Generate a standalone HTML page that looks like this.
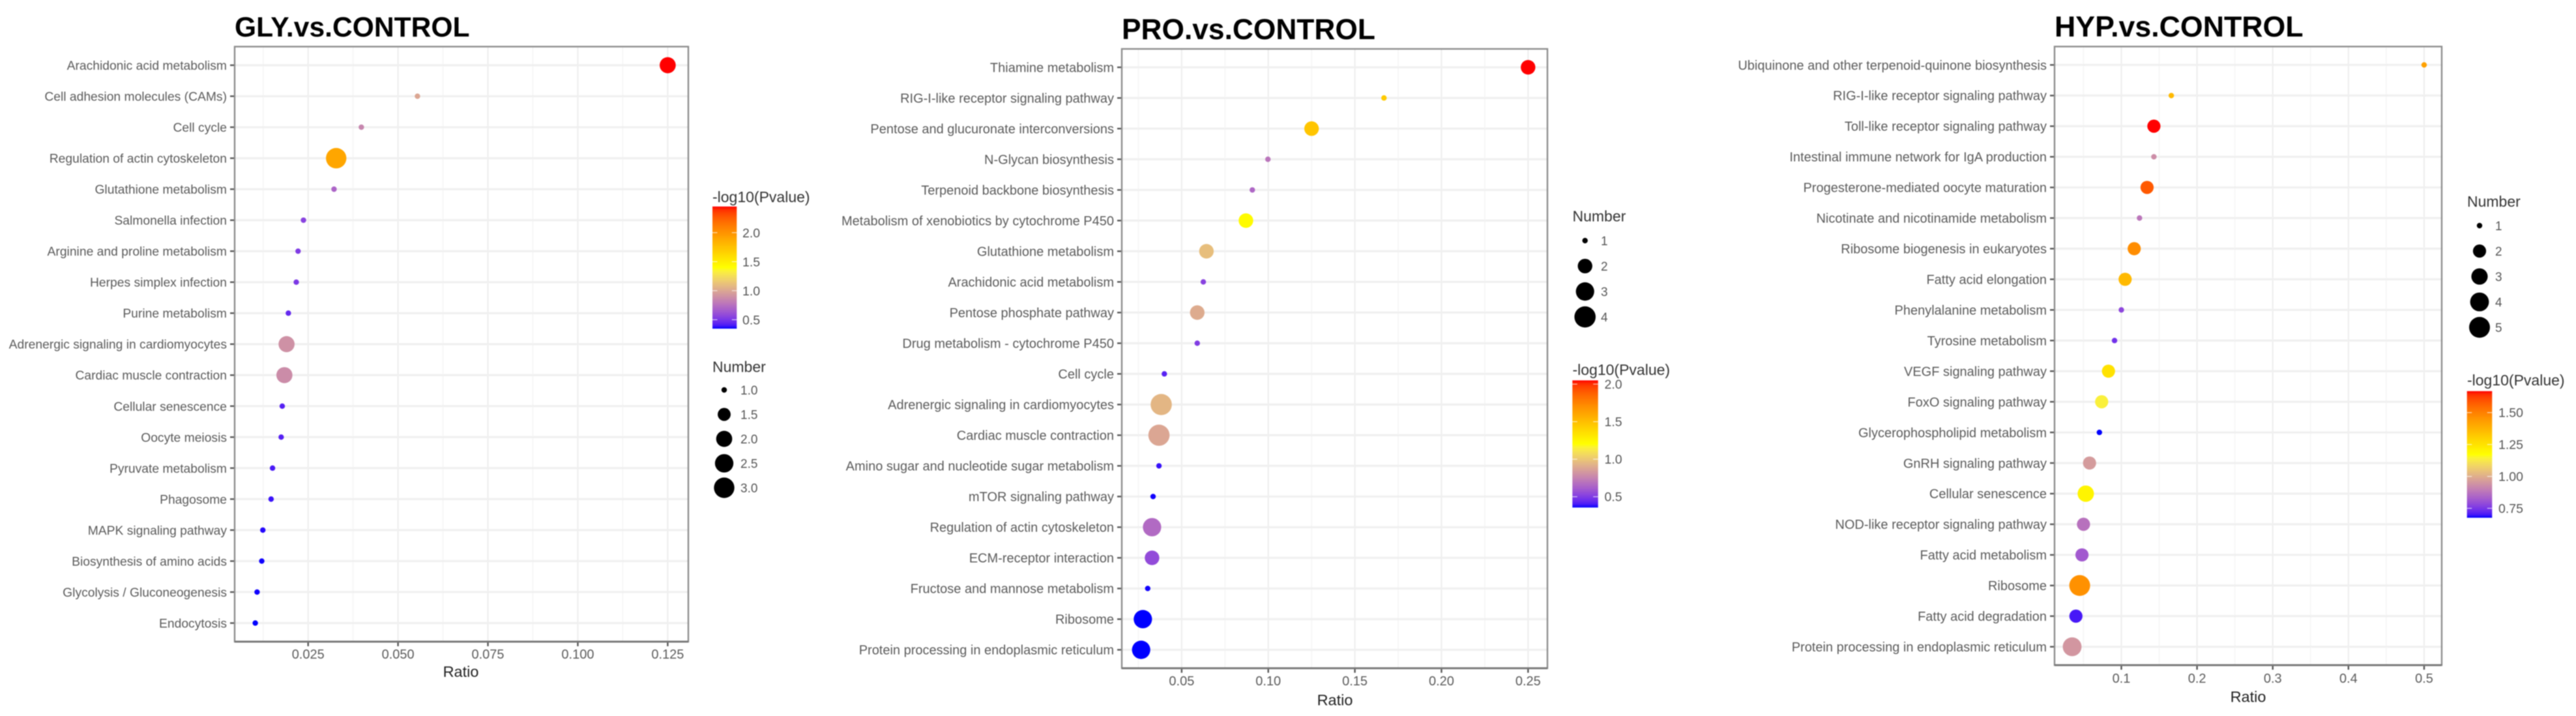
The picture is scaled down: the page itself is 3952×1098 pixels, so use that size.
<!DOCTYPE html>
<html lang="en">
<head>
<meta charset="utf-8">
<title>KEGG enrichment bubble charts</title>
<style>
html,body{margin:0;padding:0;background:#fff;}
svg{display:block;filter:blur(0.9px);}
text{font-family:"Liberation Sans",Arial,sans-serif;}
.title{font-weight:bold;fill:#000;}
.axis-title{font-size:23.5px;fill:#222;text-anchor:middle;}
.legend-title{font-size:23px;fill:#333;}
</style>
</head>
<body>
<svg id="figure" xmlns="http://www.w3.org/2000/svg" width="3952" height="1098" viewBox="0 0 3952 1098">
  <rect x="0" y="0" width="3952" height="1098" fill="#ffffff"/>

  <g id="panel-gly"></g>
  <text class="title" x="360" y="56" font-size="42.6">GLY.vs.CONTROL</text>
  <text class="axis-title" x="707" y="1038">Ratio</text>
  <text class="legend-title" x="1093" y="310">-log10(Pvalue)</text>
  <text class="legend-title" x="1093" y="570.5">Number</text>

  <g id="panel-pro"></g>
  <text class="title" x="1721" y="60" font-size="44.3">PRO.vs.CONTROL</text>
  <text class="axis-title" x="2048" y="1081.5">Ratio</text>
  <text class="legend-title" x="2412.5" y="575">-log10(Pvalue)</text>
  <text class="legend-title" x="2412.5" y="339.5">Number</text>

  <g id="panel-hyp"></g>
  <text class="title" x="3152" y="56" font-size="44.7">HYP.vs.CONTROL</text>
  <text class="axis-title" x="3449" y="1076.5">Ratio</text>
  <text class="legend-title" x="3785" y="591">-log10(Pvalue)</text>
  <text class="legend-title" x="3785" y="317">Number</text>
</svg>

<script>
/* ---------- GLY data ---------- */
const glyCategories = ["Arachidonic acid metabolism","Cell adhesion molecules (CAMs)","Cell cycle","Regulation of actin cytoskeleton","Glutathione metabolism","Salmonella infection","Arginine and proline metabolism","Herpes simplex infection","Purine metabolism","Adrenergic signaling in cardiomyocytes","Cardiac muscle contraction","Cellular senescence","Oocyte meiosis","Pyruvate metabolism","Phagosome","MAPK signaling pathway","Biosynthesis of amino acids","Glycolysis / Gluconeogenesis","Endocytosis"];
const glyRatio = [0.125,0.0554,0.0398,0.0328,0.0322,0.0237,0.0222,0.0217,0.0195,0.019,0.0184,0.0178,0.0175,0.0151,0.0147,0.0124,0.0121,0.0108,0.0103];
const glyNumber = [2,1,1,3,1,1,1,1,1,2,2,1,1,1,1,1,1,1,1];
const glyLogP = [2.45,1.0,0.85,1.9,0.7,0.55,0.52,0.51,0.45,0.9,0.88,0.42,0.42,0.4,0.38,0.36,0.35,0.35,0.346];
const glyXTicks = [0.025,0.05,0.075,0.1,0.125];
const glyXTickLabels = ["0.025","0.050","0.075","0.100","0.125"];
const glyColorTicks = [0.5,1.0,1.5,2.0];
const glyColorTickLabels = ["0.5","1.0","1.5","2.0"];
const glySizeLegend = [1,1.5,2,2.5,3];
const glySizeLabels = ["1.0","1.5","2.0","2.5","3.0"];

/* ---------- PRO data ---------- */
const proCategories = ["Thiamine metabolism","RIG-I-like receptor signaling pathway","Pentose and glucuronate interconversions","N-Glycan biosynthesis","Terpenoid backbone biosynthesis","Metabolism of xenobiotics by cytochrome P450","Glutathione metabolism","Arachidonic acid metabolism","Pentose phosphate pathway","Drug metabolism - cytochrome P450","Cell cycle","Adrenergic signaling in cardiomyocytes","Cardiac muscle contraction","Amino sugar and nucleotide sugar metabolism","mTOR signaling pathway","Regulation of actin cytoskeleton","ECM-receptor interaction","Fructose and mannose metabolism","Ribosome","Protein processing in endoplasmic reticulum"];
const proRatio = [0.25,0.1668,0.125,0.0998,0.0908,0.0871,0.0643,0.0625,0.059,0.059,0.04,0.0382,0.0369,0.0369,0.0335,0.0329,0.0329,0.0304,0.0276,0.0266];
const proNumber = [2,1,2,1,1,2,2,1,2,1,1,4,4,1,1,3,2,1,3,3];
const proLogP = [2.05,1.45,1.47,0.7,0.65,1.22,0.97,0.52,0.9,0.5,0.42,0.94,0.88,0.38,0.36,0.66,0.55,0.36,0.356,0.356];
const proXTicks = [0.05,0.1,0.15,0.2,0.25];
const proXTickLabels = ["0.05","0.10","0.15","0.20","0.25"];
const proColorTicks = [0.5,1.0,1.5,2.0];
const proColorTickLabels = ["0.5","1.0","1.5","2.0"];
const proSizeLegend = [1,2,3,4];
const proSizeLabels = ["1","2","3","4"];

/* ---------- HYP data ---------- */
const hypCategories = ["Ubiquinone and other terpenoid-quinone biosynthesis","RIG-I-like receptor signaling pathway","Toll-like receptor signaling pathway","Intestinal immune network for IgA production","Progesterone-mediated oocyte maturation","Nicotinate and nicotinamide metabolism","Ribosome biogenesis in eukaryotes","Fatty acid elongation","Phenylalanine metabolism","Tyrosine metabolism","VEGF signaling pathway","FoxO signaling pathway","Glycerophospholipid metabolism","GnRH signaling pathway","Cellular senescence","NOD-like receptor signaling pathway","Fatty acid metabolism","Ribosome","Fatty acid degradation","Protein processing in endoplasmic reticulum"];
const hypRatio = [0.5,0.166,0.143,0.143,0.134,0.124,0.117,0.105,0.1,0.091,0.083,0.074,0.071,0.058,0.053,0.05,0.048,0.045,0.04,0.035];
const hypNumber = [1,1,2,1,2,1,2,2,1,1,2,2,1,2,3,2,2,5,2,4];
const hypLogP = [1.42,1.36,1.668,0.93,1.58,0.88,1.47,1.36,0.78,0.74,1.25,1.14,0.676,0.96,1.2,0.87,0.82,1.46,0.7,0.95];
const hypXTicks = [0.1,0.2,0.3,0.4,0.5];
const hypXTickLabels = ["0.1","0.2","0.3","0.4","0.5"];
const hypColorTicks = [0.75,1.0,1.25,1.5];
const hypColorTickLabels = ["0.75","1.00","1.25","1.50"];
const hypSizeLegend = [1,2,3,4,5];
const hypSizeLabels = ["1","2","3","4","5"];

const SVGNS = "http://www.w3.org/2000/svg";

function mk(tag, attrs, parent){
  const el = document.createElementNS(SVGNS, tag);
  for (const k in attrs) el.setAttribute(k, attrs[k]);
  parent.appendChild(el);
  return el;
}

/* Lab interpolation, matching the blue-yellow-red gradient of the reference */
function toLab(hex){
  const c = [1,3,5].map(i => parseInt(hex.substr(i,2),16)/255)
    .map(v => v > 0.04045 ? Math.pow((v+0.055)/1.055,2.4) : v/12.92);
  const X = (0.4124*c[0]+0.3576*c[1]+0.1805*c[2])/0.95047;
  const Y = (0.2126*c[0]+0.7152*c[1]+0.0722*c[2]);
  const Z = (0.0193*c[0]+0.1192*c[1]+0.9505*c[2])/1.08883;
  const f = t => t > 0.008856 ? Math.cbrt(t) : 7.787*t+16/116;
  return [116*f(Y)-16, 500*(f(X)-f(Y)), 200*(f(Y)-f(Z))];
}
function fromLab(l){
  const fy=(l[0]+16)/116, fx=l[1]/500+fy, fz=fy-l[2]/200;
  const g = t => t*t*t > 0.008856 ? t*t*t : (t-16/116)/7.787;
  const X=g(fx)*0.95047, Y=g(fy), Z=g(fz)*1.08883;
  const rgb=[3.2406*X-1.5372*Y-0.4986*Z, -0.9689*X+1.8758*Y+0.0415*Z, 0.0557*X-0.2040*Y+1.0570*Z];
  return "rgb(" + rgb.map(v => {
    v = v <= 0.0031308 ? 12.92*v : 1.055*Math.pow(Math.max(v,0),1/2.4)-0.055;
    return Math.round(Math.min(1,Math.max(0,v))*255);
  }).join(",") + ")";
}
const labBlue = toLab("#0000ff"), labYellow = toLab("#ffff00"), labRed = toLab("#ff0000");
function gradientColor(t){
  t = Math.min(1,Math.max(0,t));
  const a = t < 0.5 ? labBlue : labYellow;
  const b = t < 0.5 ? labYellow : labRed;
  const u = t < 0.5 ? t*2 : (t-0.5)*2;
  return fromLab([0,1,2].map(i => a[i]+(b[i]-a[i])*u));
}

function drawChart(p){
  const root = document.getElementById(p.id);

  /* scales: continuous axis with 5% expansion, discrete axis with 0.6 band expansion */
  const xMin = Math.min(...p.ratio), xMax = Math.max(...p.ratio);
  const xPad = (xMax-xMin)*0.05;
  const x = v => p.left + (v-(xMin-xPad))/((xMax+xPad)-(xMin-xPad))*(p.right-p.left);
  const band = (p.bottom-p.top)/(p.categories.length-1+1.2);
  const y = i => p.top + band*(0.6+i);
  const cMin = Math.min(...p.logP), cMax = Math.max(...p.logP);
  const color = v => gradientColor((v-cMin)/(cMax-cMin));
  const nMin = Math.min(...p.sizeLegend), nMax = Math.max(...p.sizeLegend);
  const radius = n => 4.2 + (p.rMax-4.2)*Math.sqrt((n-nMin)/(nMax-nMin));

  /* minor vertical grid */
  const tickStep = p.xTicks[1]-p.xTicks[0];
  const minors = [p.xTicks[0]-tickStep/2];
  p.xTicks.forEach(t => minors.push(t+tickStep/2));
  minors.forEach(m => {
    if (x(m) <= p.left || x(m) >= p.right) return;
    const el = mk("line",{x1:x(m),x2:x(m),y1:p.top,y2:p.bottom,stroke:"#f5f5f5","stroke-width":1.6},root);
    
    
  });

  /* major vertical grid, ticks and labels */
  p.xTicks.forEach((t,i) => {
    const g = mk("line",{x1:x(t),x2:x(t),y1:p.top,y2:p.bottom,stroke:"#eeeeee","stroke-width":2.2},root);
    
    
    const tk = mk("line",{x1:x(t),x2:x(t),y1:p.bottom,y2:p.bottom+7,stroke:"#555","stroke-width":2.4},root);
    
    
    const lb = mk("text",{x:x(t),y:p.xLabelY,"text-anchor":"middle","font-size":20,fill:"#5a5a5a"},root);
    
    
    lb.textContent = p.xTickLabels[i];
  });

  /* rows: gridline, tick, label */
  p.categories.forEach((c,i) => {
    const g = mk("line",{x1:p.left,x2:p.right,y1:y(i),y2:y(i),stroke:"#f0f0f0","stroke-width":3.2},root);
    
    
    const tk = mk("line",{x1:p.left-7,x2:p.left,y1:y(i),y2:y(i),stroke:"#555","stroke-width":2.4},root);
    
    
    const lb = mk("text",{x:p.left-12,y:y(i),dy:"0.36em","text-anchor":"end","font-size":p.yFont,fill:"#5a5a5a"},root);
    
    
    lb.textContent = c;
  });

  /* data points */
  p.categories.forEach((c,i) => {
    const dot = mk("circle",{cx:x(p.ratio[i]),cy:y(i),r:radius(p.number[i]),fill:color(p.logP[i])},root);
    
    
    const tip = mk("title",{},dot);
    tip.textContent = c;
  });

  /* panel border: lighter frame with a heavier bottom edge */
  const border = mk("rect",{x:p.left,y:p.top,width:p.right-p.left,height:p.bottom-p.top,fill:"none",stroke:"#8c8c8c","stroke-width":2.4},root);
  
  
  const base = mk("line",{x1:p.left,x2:p.right,y1:p.bottom,y2:p.bottom,stroke:"#787878","stroke-width":3},root);
  
  

  /* colour bar */
  const gradId = p.id + "-grad";
  const defs = mk("defs",{},root);
  const grad = mk("linearGradient",{id:gradId,x1:0,y1:1,x2:0,y2:0},defs);
  for (let s = 0; s <= 40; s++){
    mk("stop",{offset:s/40,"stop-color":gradientColor(s/40)},grad);
  }
  const bar = mk("rect",{x:p.barX,y:p.barY,width:p.barW,height:p.barH,fill:"url(#"+gradId+")"},root);
  
  
  const barPos = v => p.barY + p.barH - (v-cMin)/(cMax-cMin)*p.barH;
  p.colorTicks.forEach((t,i) => {
    [[p.barX,p.barX+7.5],[p.barX+p.barW-7.5,p.barX+p.barW]].forEach(seg => {
      const tk = mk("line",{x1:seg[0],x2:seg[1],y1:barPos(t),y2:barPos(t),stroke:"#ffffff","stroke-opacity":0.75,"stroke-width":1.2},root);
      
      
    });
    const lb = mk("text",{x:p.barLabelX,y:barPos(t),dy:"0.36em","font-size":19.5,fill:"#555555"},root);
    
    
    lb.textContent = p.colorTickLabels[i];
  });

  /* size legend */
  p.sizeLegend.forEach((n,i) => {
    const cy = p.sizeY + i*p.sizeStep;
    const dot = mk("circle",{cx:p.sizeX,cy:cy,r:radius(n),fill:"#000"},root);
    
    
    const lb = mk("text",{x:p.sizeLabelX,y:cy,dy:"0.36em","font-size":19,fill:"#555555"},root);
    
    
    lb.textContent = p.sizeLabels[i];
  });
}

drawChart({id:"panel-gly",categories:glyCategories,ratio:glyRatio,number:glyNumber,logP:glyLogP,
  xTicks:glyXTicks,xTickLabels:glyXTickLabels,colorTicks:glyColorTicks,colorTickLabels:glyColorTickLabels,
  sizeLegend:glySizeLegend,sizeLabels:glySizeLabels,
  left:360,right:1056,top:71.5,bottom:984,xLabelY:1010,yFont:19.3,rMax:15.7,
  barX:1093,barY:316.7,barW:37.3,barH:187.3,barLabelX:1139,
  sizeX:1111,sizeLabelX:1136,sizeY:598,sizeStep:37.5});

drawChart({id:"panel-pro",categories:proCategories,ratio:proRatio,number:proNumber,logP:proLogP,
  xTicks:proXTicks,xTickLabels:proXTickLabels,colorTicks:proColorTicks,colorTickLabels:proColorTickLabels,
  sizeLegend:proSizeLegend,sizeLabels:proSizeLabels,
  left:1721,right:2374,top:75,bottom:1024.7,xLabelY:1051,yFont:20,rMax:16.3,
  barX:2412.3,barY:583.3,barW:39.4,barH:195,barLabelX:2461.5,
  sizeX:2431.7,sizeLabelX:2456,sizeY:369,sizeStep:39});

drawChart({id:"panel-hyp",categories:hypCategories,ratio:hypRatio,number:hypNumber,logP:hypLogP,
  xTicks:hypXTicks,xTickLabels:hypXTickLabels,colorTicks:hypColorTicks,colorTickLabels:hypColorTickLabels,
  sizeLegend:hypSizeLegend,sizeLabels:hypSizeLabels,
  left:3152,right:3746,top:71.4,bottom:1020,xLabelY:1047,yFont:20,rMax:16,
  barX:3784.7,barY:599.8,barW:38.6,barH:194.2,barLabelX:3833,
  sizeX:3804,sizeLabelX:3828,sizeY:346,sizeStep:39});
</script>
</body>
</html>
